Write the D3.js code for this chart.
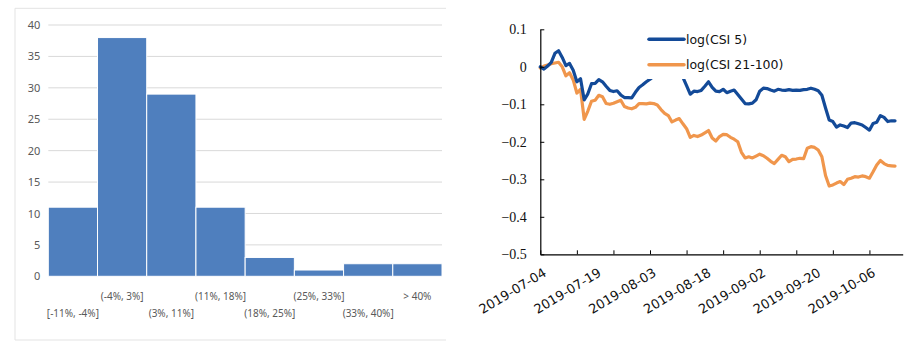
<!DOCTYPE html>
<html>
<head>
<meta charset="utf-8">
<script src="https://cdn.jsdelivr.net/npm/d3@7"></script>
<style>
  body { margin: 0; background: #fff; }
  svg { display: block; }
</style>
</head>
<body>
<svg id="chart" width="915" height="342"></svg>
<script>
// ---------- Histogram data ----------
const bins = ["[-11%, -4%]", "(-4%, 3%]", "(3%, 11%]", "(11%, 18%]", "(18%, 25%]", "(25%, 33%]", "(33%, 40%]", "> 40%"];
const counts = [11, 38, 29, 11, 3, 1, 2, 2];
const histTicks = [0, 5, 10, 15, 20, 25, 30, 35, 40];

// ---------- Line chart data ----------
const dateLabels = ["2019-07-04", "2019-07-19", "2019-08-03", "2019-08-18", "2019-09-02", "2019-09-20", "2019-10-06"];
const dateLabelIdx = [0, 15, 30, 45, 60, 75, 90];
const seriesNames = ["log(CSI 5)", "log(CSI 21-100)"];
const csi5 = [
  0, -0.006, 0.002, 0.012, 0.036, 0.043, 0.025, 0.003, 0.009, -0.009,
  -0.04, -0.032, -0.088, -0.072, -0.045, -0.044, -0.034, -0.04, -0.052, -0.063,
  -0.066, -0.064, -0.075, -0.082, -0.082, -0.083, -0.068, -0.055, -0.048, -0.04,
  -0.033, -0.025, -0.012, -0.005, 0.002, -0.008, -0.003, -0.012, -0.02, -0.028,
  -0.05, -0.073, -0.065, -0.066, -0.063, -0.052, -0.04, -0.055, -0.065, -0.066,
  -0.06, -0.069, -0.065, -0.062, -0.074, -0.086, -0.098, -0.099, -0.097, -0.088,
  -0.065, -0.057, -0.058, -0.062, -0.065, -0.06, -0.062, -0.063, -0.061, -0.063,
  -0.062, -0.063, -0.061, -0.06, -0.057, -0.06, -0.064, -0.076, -0.11, -0.142,
  -0.146, -0.161, -0.155, -0.158, -0.162, -0.15, -0.149, -0.152, -0.155, -0.162,
  -0.169, -0.151, -0.148, -0.13, -0.135, -0.146, -0.144, -0.144
];
const csi21_100 = [
  -0.003, 0.002, 0.005, 0.008, 0.01, 0.012, 0.0, -0.024, -0.016, -0.035,
  -0.07, -0.06, -0.14, -0.118, -0.092, -0.089, -0.076, -0.08, -0.098, -0.1,
  -0.097, -0.093, -0.089, -0.106, -0.11, -0.112, -0.108, -0.098, -0.098, -0.099,
  -0.097, -0.098, -0.102, -0.114, -0.124, -0.13, -0.147, -0.142, -0.138, -0.152,
  -0.165, -0.188, -0.183, -0.186, -0.182, -0.176, -0.17, -0.19, -0.198, -0.186,
  -0.18, -0.181, -0.188, -0.193, -0.2, -0.228, -0.243, -0.24, -0.243, -0.238,
  -0.233, -0.237, -0.244, -0.252, -0.258, -0.247, -0.236, -0.24, -0.253, -0.247,
  -0.246, -0.244, -0.245, -0.217, -0.213, -0.215, -0.222, -0.24, -0.29, -0.318,
  -0.315, -0.31, -0.306, -0.314, -0.3, -0.297, -0.293, -0.294, -0.291, -0.293,
  -0.297, -0.28, -0.262, -0.25, -0.258, -0.263, -0.264, -0.265
];
const lineTicks = [0.1, 0, -0.1, -0.2, -0.3, -0.4, -0.5];
const xTickIdx = [0, 10, 20, 30, 40, 50, 60, 70, 80, 90];

const svg = d3.select("#chart");

// ================= LEFT: histogram =================
const H = { left: 48.3, right: 442, top: 25, bottom: 276.3 };
const left = svg.append("g");

left.append("path")
  .attr("d", "M446,8.3 H15 V340 H446")
  .attr("fill", "none").attr("stroke", "#e3e3e3").attr("stroke-width", 1);

const xH = d3.scaleBand().domain(bins).range([H.left, H.right]).padding(0);
const yH = d3.scaleLinear().domain([0, 40]).range([H.bottom, H.top]);

left.append("g").selectAll("line").data(histTicks.filter(t => t > 0)).join("line")
  .attr("x1", H.left).attr("x2", H.right)
  .attr("y1", d => yH(d)).attr("y2", d => yH(d))
  .attr("stroke", "#d9d9d9").attr("stroke-width", 1);

const yAxisH = d3.axisLeft(yH).tickValues(histTicks).tickSize(0).tickPadding(8);
const gyH = left.append("g").attr("transform", `translate(${H.left},0)`).call(yAxisH);
gyH.select(".domain").remove();
gyH.selectAll("text").attr("font-family", "'Noto Sans', sans-serif").attr("font-size", 11).attr("fill", "#595959");

left.append("g").selectAll("rect").data(bins).join("rect")
  .attr("x", d => xH(d))
  .attr("width", xH.bandwidth())
  .attr("y", (d, i) => yH(counts[i]))
  .attr("height", (d, i) => yH(0) - yH(counts[i]))
  .attr("fill", "#4f7fbe")
  .attr("stroke", "#fff").attr("stroke-width", 1);

left.append("g").selectAll("text").data(bins).join("text")
  .attr("x", d => xH(d) + xH.bandwidth() / 2)
  .attr("y", (d, i) => i % 2 === 1 ? 299.5 : 317)
  .attr("text-anchor", "middle")
  .attr("font-family", "'Noto Sans', sans-serif").attr("font-size", 10)
  .attr("fill", "#595959")
  .text(d => d);

// ================= RIGHT: line chart =================
const L = { left: 540.3, right: 902.7, top: 29.3, bottom: 254.3 };
const right = svg.append("g");
const xL = d3.scaleLinear().domain([0, 99.1]).range([L.left, L.right]);
const yL = d3.scaleLinear().domain([-0.5, 0.1]).range([L.bottom, L.top]);

const colors = ["#134a98", "#f0964c"];
const series = [csi5, csi21_100];

const line = d3.line().x((d, i) => xL(i)).y(d => yL(d));
[1, 0].forEach(k => {
  right.append("path").datum(series[k])
    .attr("d", line)
    .attr("fill", "none")
    .attr("stroke", colors[k])
    .attr("stroke-width", 3.2)
    .attr("stroke-linejoin", "round")
    .attr("stroke-linecap", "round");
});

const yAxisL = d3.axisLeft(yL).tickValues(lineTicks).tickSizeInner(-4).tickSizeOuter(0).tickPadding(13.5)
  .tickFormat(d => d === 0 ? "0" : d3.format(".1f")(d));
const gyL = right.append("g").attr("transform", `translate(${L.left},0)`).call(yAxisL);
gyL.select(".domain").attr("stroke", "#000").attr("stroke-width", 1.2);
gyL.selectAll(".tick line").attr("stroke", "#000");
gyL.selectAll("text").attr("font-family", "'Liberation Serif', serif").attr("font-size", 14).attr("fill", "#111");

const xAxisL = d3.axisBottom(xL).tickValues(xTickIdx).tickSizeInner(-4).tickSizeOuter(0).tickFormat("");
const gxL = right.append("g").attr("transform", `translate(0,${L.bottom})`).call(xAxisL);
gxL.select(".domain").attr("stroke", "#000").attr("stroke-width", 1.2);
gxL.selectAll(".tick line").attr("stroke", "#000");

right.append("g").selectAll("text").data(dateLabels).join("text")
  .attr("transform", (d, i) => `translate(${xL(dateLabelIdx[i]) + 7},${L.bottom + 21}) rotate(-31)`)
  .attr("text-anchor", "end")
  .attr("font-family", "'DejaVu Sans', sans-serif").attr("font-size", 13)
  .attr("fill", "#111")
  .text(d => d);

const lg = right.append("g");
lg.append("rect").attr("x", 648).attr("y", 25).attr("width", 142).attr("height", 54).attr("fill", "#fff");
const legY = [39.3, 64.7];
seriesNames.forEach((name, k) => {
  lg.append("line")
    .attr("x1", 649).attr("x2", 684).attr("y1", legY[k]).attr("y2", legY[k])
    .attr("stroke", colors[k]).attr("stroke-width", 3.5).attr("stroke-linecap", "round");
  lg.append("text")
    .attr("x", 686).attr("y", legY[k] + 4.7)
    .attr("font-family", "'DejaVu Sans', sans-serif").attr("font-size", 12.5)
    .attr("fill", "#111")
    .text(name);
});
</script>
</body>
</html>
